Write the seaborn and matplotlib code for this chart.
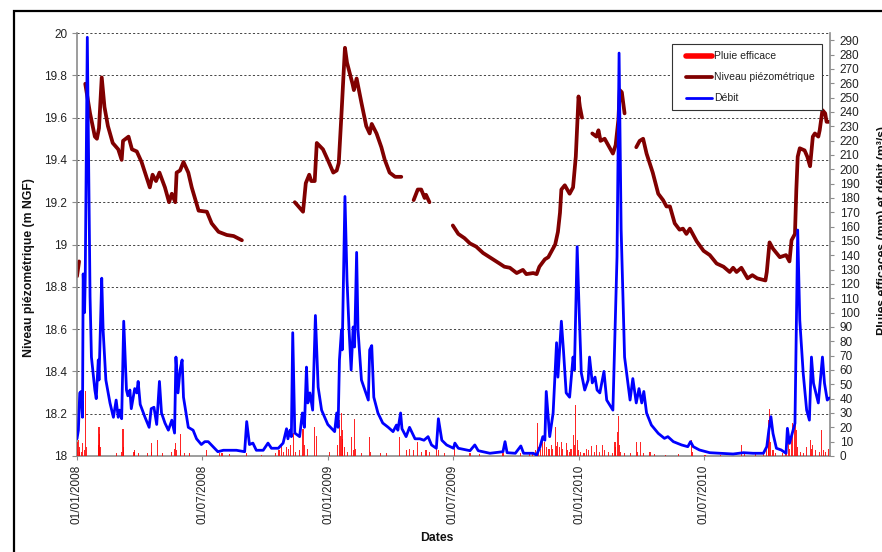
import numpy as np
import pandas as pd
import matplotlib
matplotlib.use("Agg")
import matplotlib.pyplot as plt
import matplotlib.dates as mdates
from matplotlib.lines import Line2D
from matplotlib.patches import Rectangle
from matplotlib.ticker import FuncFormatter
from matplotlib.legend_handler import HandlerLine2D
import seaborn as sns

# # # # # data # # # # #

# niveau piezometrique (m NGF), one troncon per continuous piece of line
niveau_dates = [
    "2008-01-01", "2008-01-04",
    "2008-01-13", "2008-01-20", "2008-01-27", "2008-01-30", "2008-02-02", "2008-02-06", "2008-02-10",
    "2008-02-15", "2008-02-22", "2008-03-01", "2008-03-06", "2008-03-08", "2008-03-16", "2008-03-21",
    "2008-03-28", "2008-04-04", "2008-04-16", "2008-04-20", "2008-04-25", "2008-04-30", "2008-05-08",
    "2008-05-14", "2008-05-18", "2008-05-23", "2008-05-25", "2008-05-30", "2008-06-04", "2008-06-11",
    "2008-06-16", "2008-06-26", "2008-07-08", "2008-07-15", "2008-07-25", "2008-08-06", "2008-08-16",
    "2008-08-28",
    "2008-11-13", "2008-11-25", "2008-11-29", "2008-12-04", "2008-12-07", "2008-12-12", "2008-12-15",
    "2008-12-24", "2008-12-31", "2009-01-08", "2009-01-13", "2009-01-16", "2009-01-20", "2009-01-25",
    "2009-01-28", "2009-02-05", "2009-02-07", "2009-02-11", "2009-02-18", "2009-02-25", "2009-03-02",
    "2009-03-05", "2009-03-12", "2009-03-19", "2009-03-24", "2009-03-31", "2009-04-08", "2009-04-17",
    "2009-05-05", "2009-05-11", "2009-05-16", "2009-05-21", "2009-05-23", "2009-05-28",
    "2009-07-01", "2009-07-09", "2009-07-18", "2009-07-26", "2009-08-04", "2009-08-14", "2009-08-26",
    "2009-09-07", "2009-09-14", "2009-09-22", "2009-10-02", "2009-10-11", "2009-10-16", "2009-10-26",
    "2009-10-31", "2009-11-04", "2009-11-12", "2009-11-17", "2009-11-27", "2009-12-01", "2009-12-04",
    "2009-12-06", "2009-12-11", "2009-12-18", "2009-12-23", "2009-12-27", "2009-12-31", "2010-01-02",
    "2010-01-05",
    "2010-01-20", "2010-01-26", "2010-01-29", "2010-02-01", "2010-02-07", "2010-02-19", "2010-02-23",
    "2010-02-27", "2010-03-01", "2010-03-04", "2010-03-08",
    "2010-03-25", "2010-03-30", "2010-04-04", "2010-04-09", "2010-04-18", "2010-04-26", "2010-05-03",
    "2010-05-08", "2010-05-13", "2010-05-20", "2010-05-27", "2010-06-01", "2010-06-06", "2010-06-11",
    "2010-06-21", "2010-07-01", "2010-07-10", "2010-07-20", "2010-07-30", "2010-08-08", "2010-08-13",
    "2010-08-18", "2010-08-25", "2010-09-03", "2010-09-10", "2010-09-17", "2010-09-29", "2010-10-01",
    "2010-10-05", "2010-10-10", "2010-10-20", "2010-10-29", "2010-11-03", "2010-11-06", "2010-11-11",
    "2010-11-13", "2010-11-15", "2010-11-18", "2010-11-25", "2010-11-29", "2010-12-03", "2010-12-07",
    "2010-12-10", "2010-12-15", "2010-12-17", "2010-12-21", "2010-12-25", "2010-12-27", "2010-12-31",
]
niveau_vals = [
    18.85, 18.92,
    19.76, 19.62, 19.51, 19.50, 19.55, 19.79, 19.65,
    19.56, 19.48, 19.45, 19.40, 19.49, 19.51, 19.45,
    19.44, 19.39, 19.27, 19.33, 19.30, 19.34, 19.27,
    19.20, 19.24, 19.20, 19.34, 19.35, 19.39, 19.34,
    19.27, 19.16, 19.155, 19.10, 19.06, 19.045, 19.04,
    19.02,
    19.20, 19.155, 19.29, 19.33, 19.30, 19.30, 19.48,
    19.45, 19.40, 19.34, 19.35, 19.385, 19.62, 19.93,
    19.86, 19.76, 19.73, 19.785, 19.67, 19.56, 19.525,
    19.57, 19.525, 19.46, 19.40, 19.34, 19.32, 19.32,
    19.21, 19.26, 19.26, 19.22, 19.235, 19.20,
    19.09, 19.05, 19.03, 19.005, 18.99, 18.96, 18.935,
    18.91, 18.895, 18.89, 18.865, 18.88, 18.86, 18.865,
    18.86, 18.895, 18.93, 18.94, 19.00, 19.06, 19.15,
    19.26, 19.28, 19.24, 19.27, 19.415, 19.70, 19.65,
    19.60,
    19.525, 19.51, 19.54, 19.49, 19.50, 19.43, 19.47,
    19.59, 19.73, 19.72, 19.62,
    19.46, 19.49, 19.50, 19.43, 19.34, 19.24, 19.21,
    19.18, 19.18, 19.10, 19.07, 19.075, 19.05, 19.075,
    19.015, 18.97, 18.95, 18.91, 18.895, 18.87, 18.89,
    18.87, 18.89, 18.84, 18.855, 18.84, 18.83, 18.87,
    19.01, 18.98, 18.94, 18.95, 18.92, 19.02, 19.05,
    19.26, 19.415, 19.455, 19.445, 19.415, 19.37, 19.51,
    19.525, 19.51, 19.54, 19.635, 19.62, 19.58, 19.58,
]
# number of points in each continuous troncon of the level curve
niveau_troncon_len = [2, 36, 28, 6, 29, 11, 49]

# debit (m3/s)
debit_dates = [
    "2008-01-01", "2008-01-03", "2008-01-05", "2008-01-07", "2008-01-09", "2008-01-10", "2008-01-12",
    "2008-01-13", "2008-01-16", "2008-01-18", "2008-01-20", "2008-01-22", "2008-01-27", "2008-01-29",
    "2008-02-01", "2008-02-02", "2008-02-06", "2008-02-08", "2008-02-12", "2008-02-18", "2008-02-23",
    "2008-02-27", "2008-03-01", "2008-03-03", "2008-03-06", "2008-03-09", "2008-03-13", "2008-03-15",
    "2008-03-18", "2008-03-20", "2008-03-25", "2008-03-28", "2008-03-30", "2008-04-02", "2008-04-09",
    "2008-04-15", "2008-04-18", "2008-04-22", "2008-04-26", "2008-04-30", "2008-05-03", "2008-05-08",
    "2008-05-13", "2008-05-18", "2008-05-22", "2008-05-24", "2008-05-27", "2008-05-30", "2008-06-02",
    "2008-06-04", "2008-06-11", "2008-06-18", "2008-06-23", "2008-06-30", "2008-07-05", "2008-07-10",
    "2008-07-17", "2008-07-24", "2008-08-01", "2008-08-20", "2008-09-01", "2008-09-04", "2008-09-08",
    "2008-09-13", "2008-09-18", "2008-09-28", "2008-10-05", "2008-10-10", "2008-10-20", "2008-10-27",
    "2008-11-01", "2008-11-03", "2008-11-06", "2008-11-08", "2008-11-10", "2008-11-13", "2008-11-20",
    "2008-11-24", "2008-11-27", "2008-11-30", "2008-12-02", "2008-12-05", "2008-12-09", "2008-12-13",
    "2008-12-17", "2008-12-22", "2008-12-31", "2009-01-10", "2009-01-13", "2009-01-15", "2009-01-17",
    "2009-01-20", "2009-01-21", "2009-01-25", "2009-01-28", "2009-01-31", "2009-02-03", "2009-02-06",
    "2009-02-08", "2009-02-11", "2009-02-13", "2009-02-18", "2009-02-23", "2009-02-28", "2009-03-02",
    "2009-03-05", "2009-03-08", "2009-03-14", "2009-03-21", "2009-03-29", "2009-04-05", "2009-04-10",
    "2009-04-12", "2009-04-16", "2009-04-18", "2009-04-24", "2009-04-29", "2009-05-07", "2009-05-14",
    "2009-05-20", "2009-05-26", "2009-05-31", "2009-06-07", "2009-06-10", "2009-06-15", "2009-06-22",
    "2009-07-02", "2009-07-04", "2009-07-09", "2009-07-26", "2009-08-02", "2009-08-07", "2009-08-24",
    "2009-09-12", "2009-09-15", "2009-09-18", "2009-09-30", "2009-10-08", "2009-10-12", "2009-10-26",
    "2009-10-31", "2009-11-05", "2009-11-09", "2009-11-12", "2009-11-14", "2009-11-19", "2009-11-24",
    "2009-11-29", "2009-12-01", "2009-12-06", "2009-12-09", "2009-12-13", "2009-12-18", "2009-12-23",
    "2009-12-25", "2009-12-29", "2010-01-01", "2010-01-04", "2010-01-09", "2010-01-14", "2010-01-16",
    "2010-01-20", "2010-01-24", "2010-01-27", "2010-01-31", "2010-02-06", "2010-02-10", "2010-02-19",
    "2010-02-25", "2010-02-28", "2010-03-03", "2010-03-08", "2010-03-16", "2010-03-20", "2010-03-25",
    "2010-03-29", "2010-04-02", "2010-04-05", "2010-04-09", "2010-04-16", "2010-04-26", "2010-05-05",
    "2010-05-10", "2010-05-18", "2010-05-30", "2010-06-08", "2010-06-12", "2010-06-16", "2010-06-25",
    "2010-07-10", "2010-07-25", "2010-08-13", "2010-08-28", "2010-09-11", "2010-09-26", "2010-10-01",
    "2010-10-04", "2010-10-07", "2010-10-10", "2010-10-15", "2010-10-22", "2010-10-29", "2010-10-31",
    "2010-11-03", "2010-11-07", "2010-11-11", "2010-11-13", "2010-11-15", "2010-11-18", "2010-11-23",
    "2010-11-28", "2010-12-02", "2010-12-05", "2010-12-08", "2010-12-15", "2010-12-21", "2010-12-24",
    "2010-12-28", "2010-12-31",
]
debit_vals = [
    12, 18, 44, 45, 27, 127, 100,
    125, 292, 204, 111, 69, 46, 40,
    67, 53, 124, 88, 53, 37, 27,
    39, 27, 32, 26, 94, 46, 42,
    46, 33, 47, 44, 52, 36, 27,
    20, 33, 34, 22, 52, 30, 23,
    18, 25, 16, 69, 44, 60, 67,
    41, 20, 18, 12, 8, 10, 10,
    6.5, 3, 4, 4, 3, 24, 8,
    9, 4, 4, 9, 5.4, 5.4, 9,
    19, 12, 18, 13.5, 86, 16, 13.5,
    30, 20, 62, 37, 44, 32, 98,
    48, 32, 22, 17, 30, 20, 67,
    88, 74, 181, 123, 88, 60, 90,
    76, 142, 88, 53, 46, 39, 74,
    77, 41, 30, 23, 20, 17, 21.6,
    18, 30, 19, 13.5, 20, 12, 12,
    11, 13.5, 7.7, 5.4, 26, 11, 7.7,
    5.4, 9, 5.4, 3.7, 7.7, 3.7, 1.9,
    3, 10, 2.3, 1.9, 7, 1.9, 1.9,
    0.7, 6.5, 13.5, 11, 45, 13.5, 30,
    79, 55, 94, 74, 44, 41, 69,
    60, 146, 99.5, 58, 46, 53, 69,
    51, 55, 46, 44, 59, 39, 32,
    139, 281, 158, 69, 39, 54, 37,
    47, 37, 45, 30, 21.6, 15.8, 12.3,
    13.5, 10, 7.7, 6.5, 10, 6.5, 4.2,
    2.3, 1.9, 1.4, 2.3, 1.9, 1.9, 6.5,
    18, 27.4, 15.8, 5.4, 4.2, 1.9, 19.3,
    8.8, 15.8, 22.8, 92.5, 157.6, 94.8, 57.7,
    32, 25, 69, 50.7, 37, 69, 50.7,
    39, 40.5,
]

# pluie efficace (mm / jour)
pluie_dates = [
    "2008-01-01", "2008-01-03", "2008-01-04", "2008-01-05", "2008-01-08", "2008-01-09", "2008-01-12",
    "2008-01-14", "2008-01-15", "2008-02-01", "2008-02-02", "2008-02-03", "2008-02-04", "2008-02-27",
    "2008-03-06", "2008-03-08", "2008-03-09", "2008-03-24", "2008-03-25", "2008-03-31", "2008-04-13",
    "2008-04-18", "2008-04-19", "2008-04-27", "2008-05-05", "2008-05-18", "2008-05-22", "2008-05-24",
    "2008-05-25", "2008-05-30", "2008-05-31", "2008-06-06", "2008-06-13", "2008-07-08", "2008-07-27",
    "2008-07-30", "2008-08-10", "2008-09-04", "2008-09-26", "2008-10-16", "2008-10-21", "2008-10-24",
    "2008-10-28", "2008-11-01", "2008-11-04", "2008-11-07", "2008-11-11", "2008-11-14", "2008-11-20",
    "2008-11-25", "2008-11-27", "2008-12-02", "2008-12-12", "2008-12-14",
    "2009-01-03", "2009-01-14", "2009-01-17", "2009-01-18", "2009-01-20", "2009-01-21", "2009-01-22",
    "2009-01-25", "2009-01-29", "2009-02-03", "2009-02-06", "2009-02-08", "2009-02-09", "2009-02-18",
    "2009-03-02", "2009-03-03", "2009-03-18", "2009-03-27", "2009-04-15", "2009-04-24", "2009-04-29",
    "2009-05-05", "2009-05-11", "2009-05-16", "2009-05-23", "2009-05-28", "2009-06-07", "2009-06-10",
    "2009-06-19", "2009-07-04", "2009-07-26", "2009-08-09", "2009-09-12", "2009-10-07", "2009-10-21",
    "2009-10-25", "2009-10-30", "2009-11-01", "2009-11-03", "2009-11-06", "2009-11-09", "2009-11-12",
    "2009-11-15", "2009-11-18", "2009-11-22", "2009-11-23", "2009-11-28", "2009-11-29", "2009-12-01",
    "2009-12-03", "2009-12-06", "2009-12-08", "2009-12-13", "2009-12-15", "2009-12-18", "2009-12-20",
    "2009-12-24", "2009-12-25", "2009-12-27", "2009-12-29", "2009-12-31",
    "2010-01-03", "2010-01-08", "2010-01-12", "2010-01-15", "2010-01-19", "2010-01-23", "2010-01-26",
    "2010-01-30", "2010-02-04", "2010-02-07", "2010-02-12", "2010-02-18", "2010-02-22", "2010-02-23",
    "2010-02-26", "2010-02-27", "2010-02-28", "2010-03-02", "2010-03-08", "2010-03-16", "2010-03-25",
    "2010-03-27", "2010-03-31", "2010-04-04", "2010-04-14", "2010-04-21", "2010-05-06", "2010-05-25",
    "2010-06-13", "2010-06-15", "2010-07-03", "2010-07-25", "2010-08-25", "2010-08-30", "2010-09-15",
    "2010-09-26", "2010-09-30", "2010-10-03", "2010-10-04", "2010-10-05", "2010-10-07", "2010-10-10",
    "2010-10-14", "2010-10-24", "2010-10-29", "2010-11-01", "2010-11-03", "2010-11-06", "2010-11-08",
    "2010-11-11", "2010-11-13", "2010-11-15", "2010-11-19", "2010-11-24", "2010-11-28", "2010-12-03",
    "2010-12-05", "2010-12-07", "2010-12-11", "2010-12-17", "2010-12-20", "2010-12-22", "2010-12-26",
    "2010-12-30",
]
pluie_vals = [
    10, 11, 6, 3, 3, 9, 4,
    45, 6, 8, 20, 15, 6, 2,
    3, 19, 6, 3, 4, 2, 2,
    9, 3, 11, 2, 3, 5, 9,
    4, 15, 4, 2, 2, 4, 2,
    2, 1.5, 2, 1, 2, 4, 8,
    3, 6, 5, 8, 16, 3, 4,
    19, 8, 5, 20, 14,
    3, 8, 25, 14, 30, 12, 18,
    6, 3, 13.5, 4, 26, 5, 2,
    13.5, 3, 2, 2, 13.5, 4, 5,
    4, 10, 3, 4, 3, 9, 4,
    2, 5, 2, 1.5, 2, 2, 3,
    2, 4, 23, 6, 5, 13.5, 10,
    6, 5, 8, 5, 20, 7, 10,
    6, 10, 5, 9, 4, 3, 5,
    14.6, 8, 35.6, 11, 4,
    3, 2, 5, 4, 7, 3, 8,
    3, 8, 4, 3, 2, 10, 6,
    17, 28, 8, 3, 2, 2, 10,
    3, 10, 2, 3, 1.5, 1, 1.5,
    11, 3, 1, 1, 8, 2, 1.5,
    3, 5, 25, 20, 33, 10, 4,
    2, 2, 4, 9, 5, 16, 23,
    25, 18, 6, 3, 2, 6, 11,
    5, 8, 4, 3, 18, 4, 3,
    5,
]

date_ticks = ["2008-01-01", "2008-07-01", "2009-01-01", "2009-07-01", "2010-01-01", "2010-07-01"]

# # # # # build tables # # # # #

niveau_troncon = np.repeat(np.arange(len(niveau_troncon_len)), niveau_troncon_len)
niveau_df = pd.DataFrame({"date": pd.to_datetime(niveau_dates), "niveau": niveau_vals,
                          "troncon": niveau_troncon})
debit_df = pd.DataFrame({"date": pd.to_datetime(debit_dates), "debit": debit_vals})
pluie_df = pd.DataFrame({"date": pd.to_datetime(pluie_dates), "pluie": pluie_vals})


# legend line that starts a bit to the right of the handle box (Excel style)
class ShortLineHandler(HandlerLine2D):
    def get_xdata(self, legend, xdescent, ydescent, width, height, fontsize):
        xdata = np.array([-xdescent + 0.22 * width, -xdescent + width])
        return xdata, xdata


# # # # # figure # # # # #

sns.set_theme(style="white")
plt.rcParams['font.family'] = ['Liberation Sans', 'DejaVu Sans']

W, H = 882, 552
fig = plt.figure(figsize=(W / 100, H / 100), dpi=100)
fig.patch.set_facecolor("white")

ax = fig.add_axes([77 / W, 1 - 456 / H, (830 - 77) / W, (456 - 33) / H])
ax2 = ax.twinx()

# niveau piezometrique on the left axis
sns.lineplot(data=niveau_df, x="date", y="niveau", units="troncon", estimator=None,
             color="#800000", linewidth=2.7, ax=ax, legend=False, sort=False)

# pluie and debit on the right axis
ax2.bar(pluie_df["date"], pluie_df["pluie"], width=1.6, color="#ff0000", alpha=0.85,
        linewidth=0, zorder=1)
sns.lineplot(data=debit_df, x="date", y="debit", color="#0000ff", linewidth=2.0,
             ax=ax2, legend=False, zorder=3)

# # # axes # # #

ax.set_xlim(pd.Timestamp("2008-01-01"), pd.Timestamp("2011-01-01"))
ax.set_ylim(18, 20)
ax2.set_ylim(0, 295)

ax.set_yticks(np.arange(18, 20.01, 0.2))
ax.yaxis.set_major_formatter(FuncFormatter(lambda v, p: "%g" % round(v, 1)))
ax2.set_yticks(np.arange(0, 291, 10))

ax.set_xticks(pd.to_datetime(date_ticks))
ax.xaxis.set_major_formatter(mdates.DateFormatter("%d/%m/%Y"))

ax.set_xlabel("")
ax.set_ylabel("")
ax2.set_xlabel("")
ax2.set_ylabel("")

ax.yaxis.grid(True, linestyle=(0, (2.2, 2.2)), color="#444444", linewidth=0.7)
ax.xaxis.grid(False)
ax2.grid(False)

axis_grey = "#8c8c8c"
for name in ["top", "right"]:
    ax.spines[name].set_visible(False)
for name in ["left", "bottom"]:
    ax.spines[name].set_color(axis_grey)
    ax.spines[name].set_linewidth(1.2)
for name in ["top", "left", "bottom"]:
    ax2.spines[name].set_visible(False)
ax2.spines["right"].set_color(axis_grey)
ax2.spines["right"].set_linewidth(1.2)

ax.tick_params(axis="y", direction="out", length=3.5, width=0.8, color=axis_grey,
               labelsize=8.5, pad=3.5, labelcolor="#222222", left=True)
ax.tick_params(axis="x", direction="out", length=3, width=0.8, color=axis_grey,
               labelsize=8.5, pad=3, labelrotation=90, labelcolor="#222222", bottom=True)
ax2.tick_params(axis="y", direction="out", length=3, width=0.8, color=axis_grey,
                labelsize=8.5, pad=4, labelcolor="#222222", right=True)

# # # titles # # #

fig.text(29 / W, 1 - 268 / H, "Niveau piézométrique (m NGF)", rotation=90, ha="center",
         va="center", fontsize=8.8, fontweight="bold", color="#111111")
fig.text(437 / W, 1 - 538 / H, "Dates", ha="center", va="center", fontsize=8.8,
         fontweight="bold", color="#111111")
fig.text(877 / W, 1 - 230 / H, "Pluies efficaces (mm) et débit (m³/s)", rotation=90,
         ha="left", va="center", fontsize=8.8, fontweight="bold", color="#111111")

# # # legend # # #

handles = [Line2D([], [], color="#ff0000", linewidth=4),
           Line2D([], [], color="#800000", linewidth=2.7),
           Line2D([], [], color="#0000ff", linewidth=2.0)]
labels = ["Pluie efficace", "Niveau piézométrique", "Débit"]
leg = ax2.legend(handles, labels, loc="upper left", bbox_to_anchor=(672 / W, 1 - 44 / H),
                 bbox_transform=fig.transFigure, fontsize=7.5, frameon=True, fancybox=False,
                 edgecolor="#333333", framealpha=1, borderpad=0.7, labelspacing=1.05,
                 handlelength=3.1, handletextpad=0.2, borderaxespad=0,
                 handler_map={Line2D: ShortLineHandler()})
leg.get_frame().set_linewidth(0.8)
for t in leg.get_texts():
    t.set_color("#222222")

# # # outer chart frame # # #

fig.patches.append(Rectangle((14 / W, -0.1), 1.2, 1 - 11 / H + 0.1, transform=fig.transFigure,
                             fill=False, edgecolor="black", linewidth=1.6))

fig.savefig("out.png", dpi=100)
